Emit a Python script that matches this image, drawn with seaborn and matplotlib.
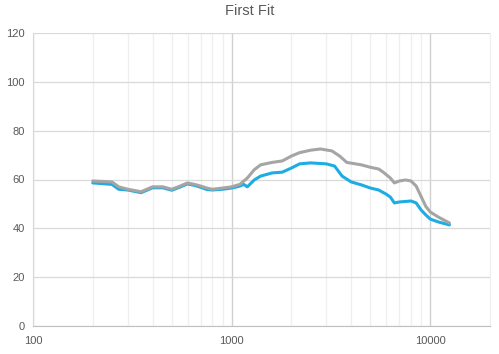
import numpy as np
import pandas as pd
import matplotlib
matplotlib.use("Agg")
import matplotlib.pyplot as plt
from matplotlib.ticker import LogLocator, FixedLocator, NullFormatter
import seaborn as sns

##################
#Data#############
##################

freq_gray = [200, 250, 270, 300, 350, 400, 450, 500, 550, 600, 650, 700, 750, 800,
             900, 1000, 1100, 1200, 1300, 1400, 1600, 1800, 2000, 2200, 2500, 2800,
             3200, 3500, 3800, 4500, 5000, 5500, 5800, 6300, 6600, 7000, 7500, 8000,
             8500, 9000, 9500, 10000, 11000, 12500]
level_gray = [59.4, 59.0, 57.0, 56.0, 55.0, 57.0, 57.0, 56.0, 57.3, 58.6, 58.0, 57.3, 56.5, 56.0,
              56.5, 57.0, 58.0, 60.6, 64.0, 66.0, 67.0, 67.6, 69.6, 71.0, 72.0, 72.5,
              71.7, 69.6, 67.0, 66.0, 65.0, 64.3, 63.0, 60.6, 58.6, 59.4, 59.8, 59.4,
              57.3, 53.0, 49.0, 46.7, 44.6, 42.2]

freq_blue = [200, 250, 270, 300, 350, 400, 450, 500, 550, 600, 650, 700, 750, 800,
             900, 1000, 1100, 1150, 1200, 1300, 1400, 1600, 1800, 2000, 2200, 2500,
             3000, 3300, 3600, 4000, 4500, 5000, 5500, 6000, 6300, 6600, 7000, 8000,
             8500, 9000, 9500, 10000, 11000, 12500]
level_blue = [58.6, 58.0, 56.0, 55.7, 54.6, 56.6, 56.6, 55.6, 56.9, 58.2, 57.6, 56.8, 55.9, 55.7,
              56.0, 56.5, 57.3, 58.0, 57.0, 59.8, 61.4, 62.7, 63.0, 64.7, 66.4, 66.8,
              66.4, 65.5, 61.4, 59.0, 57.8, 56.5, 55.7, 54.0, 52.8, 50.4, 50.8, 51.2,
              50.4, 47.5, 45.5, 43.8, 42.6, 41.4]

df = pd.concat([
    pd.DataFrame({"freq": freq_blue, "level": level_blue, "fit": "blue"}),
    pd.DataFrame({"freq": freq_gray, "level": level_gray, "fit": "gray"}),
])

##################
#Plot#############
##################

sns.set_style("white")
plt.rcParams['font.family'] = ['Liberation Sans', 'DejaVu Sans']

fig = plt.figure(figsize=(4.99, 3.54), dpi=100)
ax = fig.add_axes([33 / 499, 1 - 326 / 354, 457 / 499, 293 / 354])

sns.lineplot(data=df, x="freq", y="level", hue="fit", hue_order=["blue", "gray"],
             palette={"blue": "#1CADE4", "gray": "#A5A5A5"}, linewidth=2.2,
             legend=False, ax=ax, sort=False)

ax.set_xscale("log")
ax.set_xlim(100, 20000)
ax.set_ylim(0, 120)
ax.set_yticks([0, 20, 40, 60, 80, 100, 120])
ax.xaxis.set_major_locator(FixedLocator([100, 1000, 10000]))
ax.xaxis.set_major_formatter(matplotlib.ticker.FuncFormatter(lambda v, p: "%d" % v))
ax.xaxis.set_minor_locator(LogLocator(base=10, subs=np.arange(2, 10)))
ax.xaxis.set_minor_formatter(NullFormatter())

ax.grid(axis="y", which="major", color="#D9D9D9", linewidth=0.9)
ax.grid(axis="x", which="major", color="#D0D0D0", linewidth=1.0)
ax.grid(axis="x", which="minor", color="#EFEFEF", linewidth=0.9)
ax.set_axisbelow(True)

ax.spines["top"].set_visible(False)
ax.spines["right"].set_color("#EFEFEF")
ax.spines["left"].set_color("#D9D9D9")
ax.spines["bottom"].set_color("#BFBFBF")

ax.tick_params(axis="both", which="both", length=0, labelsize=8, colors="#595959")
ax.tick_params(axis="x", pad=7)
ax.tick_params(axis="y", pad=6)
ax.set_xlabel("")
ax.set_ylabel("")

fig.text(0.5, 1 - 11 / 354, "First Fit", ha="center", va="center",
         fontsize=10.5, color="#595959")

plt.savefig("out.png", dpi=100)
plt.close()
